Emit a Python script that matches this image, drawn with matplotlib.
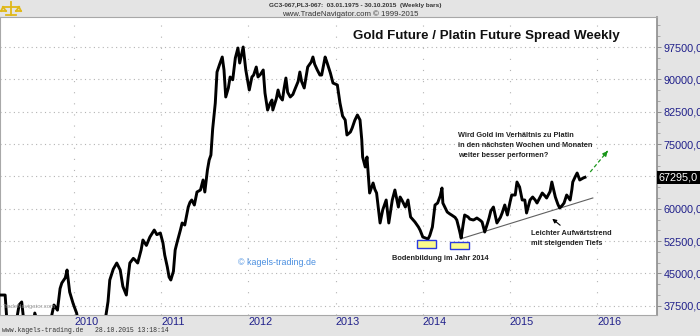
import numpy as np
import matplotlib
matplotlib.use("Agg")
from matplotlib import pyplot as plt
from matplotlib.lines import Line2D
from matplotlib.patches import Rectangle
from matplotlib.ticker import FuncFormatter, MultipleLocator
from matplotlib.transforms import blended_transform_factory

# Gold / platinum futures spread, weekly closes (decimal year, value)
years = [
    2009.15, 2009.21, 2009.24, 2009.31, 2009.37, 2009.40, 2009.44, 2009.52, 2009.55, 2009.61,
    2009.72, 2009.77, 2009.81, 2009.84, 2009.86, 2009.90, 2009.92, 2009.95, 2009.99, 2010.03,
    2010.07, 2010.18, 2010.30, 2010.36, 2010.39, 2010.41, 2010.45, 2010.49, 2010.53, 2010.56,
    2010.60, 2010.62, 2010.64, 2010.68, 2010.70, 2010.73, 2010.77, 2010.79, 2010.83, 2010.87,
    2010.92, 2010.95, 2010.99, 2011.02, 2011.04, 2011.07, 2011.09, 2011.11, 2011.14, 2011.16,
    2011.18, 2011.22, 2011.24, 2011.27, 2011.31, 2011.33, 2011.35, 2011.38, 2011.41, 2011.45,
    2011.48, 2011.50, 2011.53, 2011.55, 2011.57, 2011.59, 2011.62, 2011.64, 2011.67, 2011.70,
    2011.72, 2011.74, 2011.77, 2011.79, 2011.82, 2011.85, 2011.88, 2011.90, 2011.94, 2011.97,
    2012.01, 2012.04, 2012.06, 2012.09, 2012.11, 2012.14, 2012.17, 2012.19, 2012.22, 2012.25,
    2012.27, 2012.28, 2012.32, 2012.34, 2012.36, 2012.39, 2012.41, 2012.43, 2012.45, 2012.48,
    2012.51, 2012.53, 2012.57, 2012.59, 2012.61, 2012.64, 2012.66, 2012.68, 2012.72, 2012.74,
    2012.76, 2012.79, 2012.82, 2012.84, 2012.88, 2012.90, 2012.94, 2012.97, 2013.02, 2013.05,
    2013.08, 2013.11, 2013.13, 2013.17, 2013.19, 2013.22, 2013.25, 2013.28, 2013.30, 2013.31,
    2013.34, 2013.36, 2013.39, 2013.43, 2013.45, 2013.47, 2013.51, 2013.54, 2013.58, 2013.61,
    2013.65, 2013.68, 2013.72, 2013.74, 2013.76, 2013.80, 2013.83, 2013.86, 2013.91, 2013.95,
    2013.97, 2014.00, 2014.03, 2014.06, 2014.08, 2014.11, 2014.14, 2014.17, 2014.20, 2014.22,
    2014.23, 2014.25, 2014.28, 2014.31, 2014.33, 2014.37, 2014.39, 2014.42, 2014.44, 2014.46,
    2014.48, 2014.52, 2014.54, 2014.58, 2014.60, 2014.62, 2014.66, 2014.68, 2014.71, 2014.74,
    2014.76, 2014.78, 2014.81, 2014.83, 2014.85, 2014.89, 2014.91, 2014.94, 2014.97, 2015.00,
    2015.02, 2015.06, 2015.08, 2015.11, 2015.14, 2015.17, 2015.19, 2015.23, 2015.26, 2015.29,
    2015.31, 2015.34, 2015.37, 2015.40, 2015.42, 2015.46, 2015.48, 2015.52, 2015.55, 2015.57,
    2015.60, 2015.62, 2015.65, 2015.69, 2015.71, 2015.72, 2015.75, 2015.77, 2015.80, 2015.84,
    2015.86,
]
spread = [
    40000, 40000, 31000, 30500, 37700, 38400, 31000, 31500, 35830, 32000,
    33000, 37690, 36500, 41500, 42790, 44000, 45800, 40700, 38000, 35800,
    31000, 28000, 30000, 34500, 38500, 43480, 46000, 47420, 45800, 42000,
    40000, 44000, 47420, 48500, 48120, 47420, 50500, 52760, 51500, 53450,
    55070, 54000, 54380, 52060, 49280, 46500, 44180, 43480, 45500, 50440,
    52060, 55070, 56700, 56230, 60400, 61500, 62030, 60870, 63880, 64350,
    66670, 63880, 69000, 71300, 72460, 78500, 84500, 91700, 93500, 95180,
    92170, 85910, 88000, 90550, 89900, 94950, 97270, 93790, 97500, 92170,
    87530, 90550, 91000, 92860, 90550, 91200, 92170, 86840, 82890, 84500,
    85210, 82890, 85500, 87530, 86000, 85210, 88000, 90310, 87000, 85910,
    86500, 87530, 89500, 91700, 89500, 88000, 90500, 92860, 94000, 95180,
    93500, 92170, 91000, 91000, 95180, 94000, 91470, 89150, 88700, 84520,
    81500, 80580, 77100, 77800, 78720, 80500, 81740, 80580, 76000, 72000,
    69680, 72000, 63650, 65970, 64500, 63650, 56700, 59710, 62030, 56700,
    62030, 64350, 60400, 62720, 62030, 60400, 62030, 58090, 56930, 55770,
    55000, 53450, 53220, 52990, 53800, 55770, 60870, 61330, 63000, 64810,
    61330, 60500, 59250, 58800, 58550, 58000, 57390, 55000, 53220, 56000,
    58550, 58090, 57600, 57390, 57600, 57860, 57300, 56930, 54610, 56500,
    57860, 59500, 60400, 58500, 56700, 58000, 59020, 60870, 58550, 61500,
    63190, 63190, 66200, 65040, 62030, 62030, 59020, 62030, 62720, 62000,
    61330, 62500, 63650, 63000, 62490, 64000, 66200, 62720, 61000, 60180,
    60800, 61330, 63190, 62030, 64500, 66200, 67500, 68290, 66670, 67130,
    67295,
]

# rising-lows trend line and the two 2014 bottoms
trend_years = [2014.43, 2015.95]
trend_values = [53000, 62500]
bottom_years = [2013.93, 2014.31]
bottom_lo = [50900, 50700]
bottom_hi = [52760, 52290]
bottom_width = 0.22

year_ticks = list(range(2010, 2017))
value_ticks = list(range(37500, 97501, 7500))

BG = "#e4e4e4"
NAVY = "#1f1f8a"
W, H = 700, 336


def px(x, y):
    # pixel position -> figure fraction
    return x / W, 1 - y / H


def price_label(v, pos):
    # the last-value box sits on top of the level next to it
    if abs(v - spread[-1]) < 1500:
        return ""
    return f"{int(v)},0"


fig = plt.figure(figsize=(W / 100, H / 100), dpi=100, facecolor=BG)
ax = fig.add_axes([0, (H - 315) / H, 657 / W, (315 - 17) / H])
ax.set_facecolor("white")

ax.plot(years, spread, color="black", lw=2.1, solid_joinstyle="round", zorder=3)

ax.set_xlim(2009.151, 2016.686)
ax.set_ylim(35370, 104455)

ax.set_xticks(year_ticks)
ax.set_yticks(value_ticks)
ax.yaxis.set_minor_locator(MultipleLocator(2500))
ax.yaxis.tick_right()
ax.yaxis.set_major_formatter(FuncFormatter(price_label))
ax.tick_params(axis="y", which="major", length=3, width=0.6, color="#808080",
               pad=1.5, labelsize=7.8, labelcolor=NAVY)
ax.tick_params(axis="y", which="minor", length=2, width=0.5, color="#909090")
ax.tick_params(axis="x", length=0, pad=1.5, labelsize=7.8, labelcolor=NAVY)
for lab in ax.get_xticklabels():
    lab.set_ha("left")
for lab in ax.get_xticklabels() + ax.get_yticklabels():
    lab.set_family("Liberation Sans")

ax.grid(axis="y", color="#b4b4b4", lw=0.8, linestyle=(0, (1, 3)))
ax.grid(axis="x", color="#b4b4b4", lw=0.8, linestyle=(0, (1, 9)))
for side in ["left", "top", "bottom"]:
    ax.spines[side].set_color("#a8a8a8")
    ax.spines[side].set_linewidth(0.8)
ax.spines["right"].set_color("#8c8c8c")
ax.spines["right"].set_linewidth(1.2)

# last value box on the price axis
yt = blended_transform_factory(ax.transAxes, ax.transData)
ax.text(1.003, spread[-1], f"{spread[-1]},0", transform=yt, ha="left", va="center",
        fontsize=7.8, family="Liberation Sans", color="white",
        bbox=dict(facecolor="black", edgecolor="none", pad=1.2))

# annotations
ax.plot(trend_years, trend_values, color="#606060", lw=0.8, zorder=2)
for x0, lo, hi in zip(bottom_years, bottom_lo, bottom_hi):
    ax.add_patch(Rectangle((x0, lo), bottom_width, hi - lo, facecolor="#fbfb8c",
                           edgecolor="#2a3ae0", lw=1.0, zorder=4))

ax.annotate("", xy=(2015.46, 58090), xytext=(2015.60, 55770),
            arrowprops=dict(arrowstyle="-|>", color="black", lw=0.8, mutation_scale=6))

gx, gy = [2015.92, 2016.12], [68520, 73390]
ax.plot(gx, gy, color="#1a961a", lw=0.9, linestyle=(0, (3, 2)))
ax.annotate("", xy=(gx[1], gy[1]),
            xytext=(gx[1] - 0.15 * (gx[1] - gx[0]), gy[1] - 0.15 * (gy[1] - gy[0])),
            arrowprops=dict(arrowstyle="-|>", color="#1a961a", lw=0.9, mutation_scale=7))

note = dict(fontsize=5.3, family="Liberation Sans", weight="bold", color="#222222")
ax.text(2014.40, 77800, "Wird Gold im Verhältnis zu Platin\nin den nächsten Wochen und Monaten\n"
        "weiter besser performen?", ha="left", va="top", linespacing=1.65, **note)
ax.text(2015.24, 53220, "Leichter Aufwärtstrend\nmit steigenden Tiefs", ha="left",
        va="center", linespacing=1.6, **note)
ax.text(2014.20, 48580, "Bodenbildung im Jahr 2014", ha="center", va="center", **note)
ax.text(2011.88, 47655, "© kagels-trading.de", ha="left", va="center", fontsize=6.4,
        family="Liberation Sans", color="#4a8fe0")
ax.text(0.005, 0.02, "TradeNavigator.com", transform=ax.transAxes, fontsize=4.2,
        family="Liberation Sans", color="#9a9a9a", ha="left", va="bottom")

# title and header
fig.text(*px(353, 36), "Gold Future / Platin Future Spread Weekly", ha="left", va="center",
         fontsize=9.6, weight="bold", family="Liberation Sans", color="#111111")
fig.text(*px(355, 5), "GC3-067,PL3-067:  03.01.1975 - 30.10.2015  (Weekly bars)",
         ha="center", va="center", fontsize=4.6, weight="bold", family="Liberation Sans",
         color="#333333")
fig.text(*px(350, 14), "www.TradeNavigator.com © 1999-2015", ha="center", va="center",
         fontsize=5.6, family="Liberation Sans", color="#333333")
fig.text(*px(2, 331), "www.kagels-trading.de   28.10.2015 13:18:14", ha="left", va="center",
         fontsize=4.7, family="Liberation Mono", color="#333333")

# small scales logo
gold = "#e0b818"
for (x0, y0), (x1, y1) in [((11, 2), (11, 15)), ((3, 7), (19, 7)), ((6, 15), (16, 15)),
                           ((3, 7), (1, 11)), ((3, 7), (6, 11)), ((19, 7), (16, 11)),
                           ((19, 7), (21, 11)), ((1, 11), (6, 11)), ((16, 11), (21, 11))]:
    fig.add_artist(Line2D([x0 / W, x1 / W], [1 - y0 / H, 1 - y1 / H], color=gold, lw=1.3))

fig.savefig("out.png", dpi=100, facecolor=BG)
